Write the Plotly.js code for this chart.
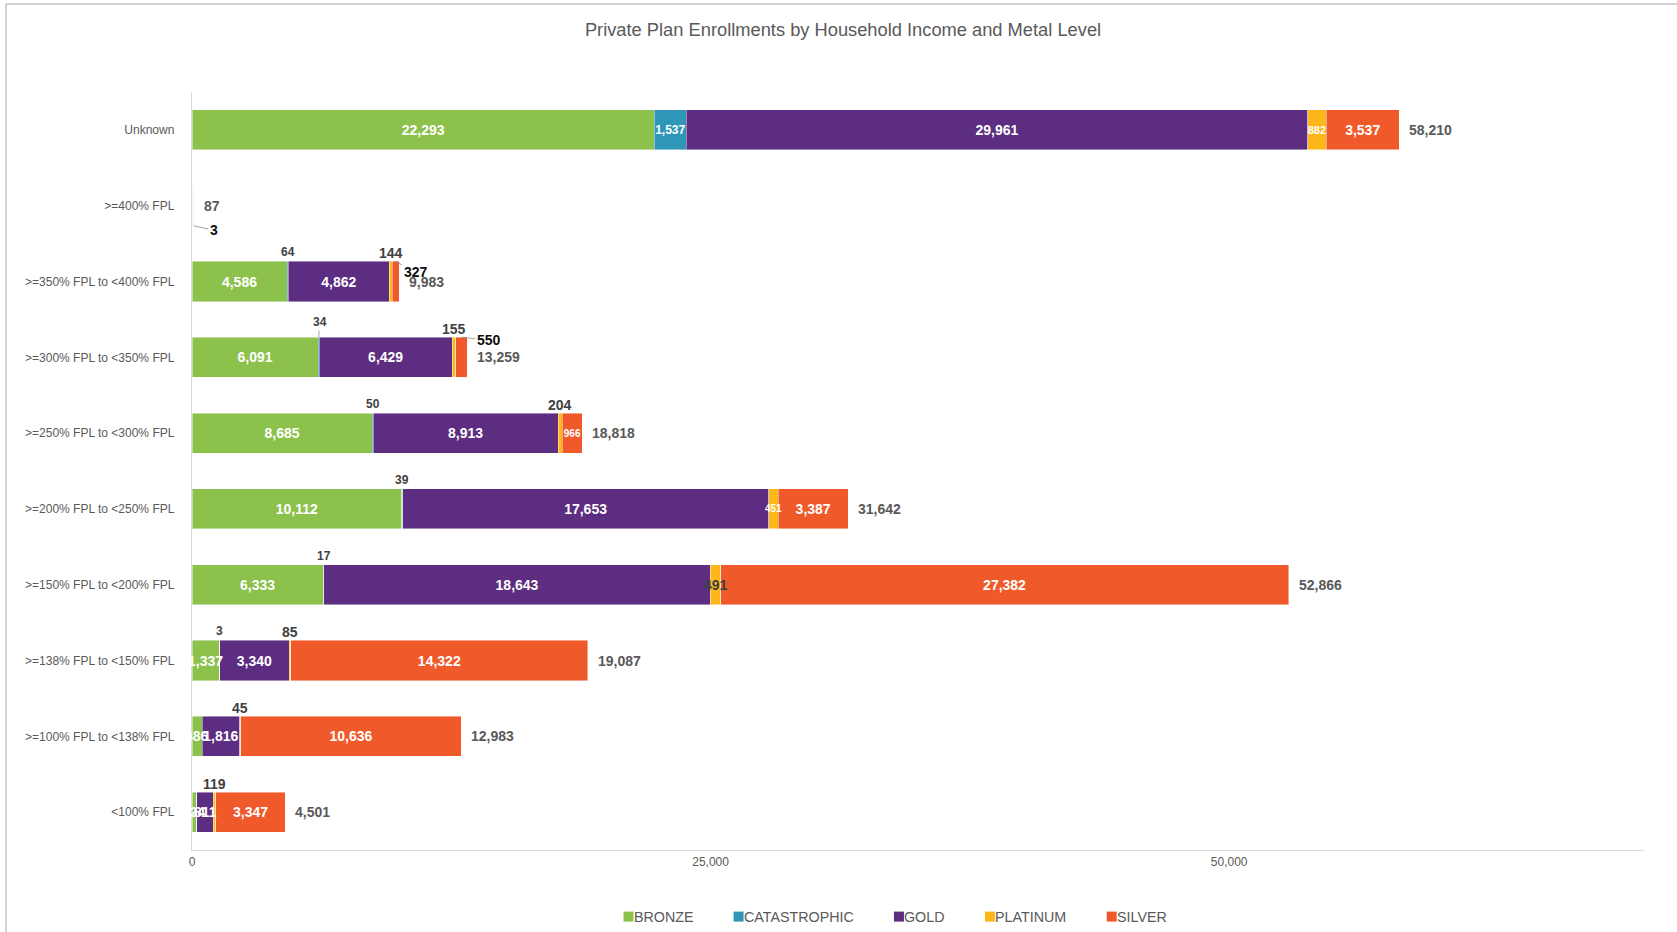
<!DOCTYPE html>
<html><head><meta charset="utf-8">
<script src="https://cdn.plot.ly/plotly-3.0.1.min.js"></script>
<style>html,body{margin:0;padding:0;background:#fff}#chart{width:1677px;height:932px}</style>
</head><body><div id="chart"></div>
<script>
// ---- data ----
const categories = ["Unknown", ">=400% FPL", ">=350% FPL to <400% FPL", ">=300% FPL to <350% FPL", ">=250% FPL to <300% FPL", ">=200% FPL to <250% FPL", ">=150% FPL to <200% FPL", ">=138% FPL to <150% FPL", ">=100% FPL to <138% FPL", "<100% FPL"];
const bronze       = [22293, 35, 4586, 6091, 8685, 10112, 6333, 1337, 486, 224];
const catastrophic = [1537,   0,   64,   34,   50,    39,   17,    3,   0,   0];
const gold         = [29961, 49, 4862, 6429, 8913, 17653, 18643, 3340, 1816, 811];
const platinum     = [882,    0,  144,  155,  204,   451,  491,   85,  45, 119];
const silver       = [3537,   3,  327,  550,  966,  3387, 27382, 14322, 10636, 3347];
const seriesNames  = ["BRONZE", "CATASTROPHIC", "GOLD", "PLATINUM", "SILVER"];
const xTickVals    = [0, 25000, 50000];
const xTickText    = ["0", "25,000", "50,000"];
const chartTitle   = "Private Plan Enrollments by Household Income and Metal Level";

// ---- styles ----
const colors = {BRONZE:"#8CC14C", CATASTROPHIC:"#2E97B8", GOLD:"#5C2D80", PLATINUM:"#FDB71A", SILVER:"#F05A2B"};
const FONT = '"Liberation Sans", Arial, Helvetica, sans-serif';
const W = 1677, H = 932, ML = 192, MR = 33, MT = 92, MB = 82;
const XMAX = 70000;
const plotW = W - ML - MR, plotH = H - MT - MB;
const seriesData = [bronze, catastrophic, gold, platinum, silver];
const placement = {
  BRONZE:       ['in','', 'in','in','in','in','in','in','in','in'],
  CATASTROPHIC: ['in','', 'above','lead','above','above','above','above','',''],
  GOLD:         ['in','', 'in','in','in','in','in','in','in','in'],
  PLATINUM:     ['in','', 'above','above','above','in','in','above','above','above'],
  SILVER:       ['in','lead','lead','lead','in','in','in','in','in','in']
};
const insideSize = {CATASTROPHIC:{0:12}, PLATINUM:{0:11,5:10}, SILVER:{4:10}};
const insideDark = {PLATINUM:{6:true}};
const leadOffsets = {SILVER:{1:[20,4.5,'bottom'],2:[20,11,'top'],3:[27.5,3,'top']}, CATASTROPHIC:{3:[1,-15,'top']}};

const fmt = v => v.toLocaleString('en-US');
const HALF = 0.265;

const canvas = document.createElement('canvas');
const ctx = canvas.getContext('2d');
function textW(str, size, bold) {
  ctx.font = (bold ? 'bold ' : '') + size + 'px "Liberation Sans", Arial, sans-serif';
  return ctx.measureText(str).width;
}
const pxPerUnit = plotW / XMAX;

const traces = [];
const annotations = [];
const shapes = [];
const cum = categories.map(() => 0);

seriesNames.forEach((name, s) => {
  const vals = seriesData[s];
  const text = [], sizes = [], tcolors = [];
  vals.forEach((v, i) => {
    const p = placement[name][i];
    const start = cum[i];
    const mid = start + v / 2;
    let bt = '', bs = 14, bc = '#ffffff';
    if (p === 'in') {
      const size = (insideSize[name] && insideSize[name][i]) || 14;
      const col = (insideDark[name] && insideDark[name][i]) ? '#404040' : '#ffffff';
      const fits = textW(fmt(v), size, true) <= v * pxPerUnit + 1;
      if (fits) { bt = fmt(v); bs = size; bc = col; }
      else {
        annotations.push({x: mid, y: i, xref:'x', yref:'y', text: fmt(v), showarrow:false,
          xanchor:'center', yanchor:'middle',
          font:{family:FONT, size:size, color:col, weight:'bold'}});
      }
    }
    text.push(bt); sizes.push(bs); tcolors.push(bc);
    if (p === 'above') {
      const isCat = name === 'CATASTROPHIC';
      annotations.push({x: mid, y: i - HALF, xref:'x', yref:'y', text: fmt(v), showarrow:false,
        yanchor:'bottom', xanchor:'center', yshift: isCat ? 0 : -2,
        font:{family:FONT, size: isCat ? 12 : 14, color:'#404040', weight:'bold'}});
    } else if (p === 'lead') {
      const o = leadOffsets[name][i];
      const yTip = o[2] === 'bottom' ? i + HALF : i - HALF;
      const isCat = name === 'CATASTROPHIC';
      annotations.push({x: mid, y: yTip, xref:'x', yref:'y', text: fmt(v), showarrow:true,
        ax:o[0], ay:o[1], arrowhead:0, arrowwidth:0.8, arrowcolor:'#8c8c8c', standoff:0,
        font:{family:FONT, size: isCat ? 12 : 14, color: isCat ? '#404040' : '#0d0d0d', weight:'bold'}});
    }
    cum[i] += v;
  });
  traces.push({
    type:'bar', orientation:'h', name: name, showlegend:false,
    y: categories, x: vals,
    marker:{color: colors[name], line:{color:'rgba(255,255,255,0.55)', width:0.8}},
    text: text, texttemplate:'%{text}', textposition:'inside', insidetextanchor:'middle',
    textangle:0, constraintext:'none', cliponaxis:false,
    insidetextfont:{family:FONT, size:sizes, color:tcolors, weight:'bold'},
    hoverinfo:'skip'
  });
});

// totals
cum.forEach((t, i) => {
  annotations.push({x: t, y: i, xref:'x', yref:'y', text: fmt(t), showarrow:false,
    xanchor:'left', yanchor:'middle', xshift:8,
    font:{family:FONT, size:14, color:'#595959', weight:'bold'}});
});

// legend (square + label), laid out from measured label widths
const px2x = px => (px - ML) / plotW;
const px2y = py => (H - MB - py) / plotH;
const legY = 916.6, sq = 10, legGap = 40.5, legFont = 14.3;
let lx = 623.5;
seriesNames.forEach(name => {
  shapes.push({type:'rect', xref:'paper', yref:'paper',
    x0:px2x(lx), x1:px2x(lx + sq), y0:px2y(legY + sq/2), y1:px2y(legY - sq/2),
    fillcolor:colors[name], line:{width:0}});
  annotations.push({xref:'paper', yref:'paper', x:px2x(lx + sq - 2), y:px2y(legY), text:name,
    showarrow:false, xanchor:'left', yanchor:'middle',
    font:{family:FONT, size:legFont, color:'#595959'}});
  lx += sq + textW(name, legFont, false) + legGap;
});

// outer frame
shapes.push({type:'rect', xref:'paper', yref:'paper', x0:px2x(6), x1:1.2, y0:-0.3, y1:px2y(4),
  line:{color:'#a6a6a6', width:1}, fillcolor:'rgba(0,0,0,0)', layer:'below'});

const layout = {
  width:W, height:H,
  margin:{l:ML, r:MR, t:MT, b:MB, pad:0, autoexpand:false},
  paper_bgcolor:'#ffffff', plot_bgcolor:'#ffffff',
  font:{family:FONT, color:'#595959'},
  title:{text:chartTitle, x:843/W, xanchor:'center', y:1-30/H, yanchor:'middle',
         font:{family:FONT, size:18.3, color:'#595959'}},
  barmode:'stack', bargap:0.47,
  xaxis:{range:[0,XMAX], tickmode:'array', tickvals:xTickVals, ticktext:xTickText,
         showgrid:false, zeroline:false, showline:true, linecolor:'#d9d9d9', linewidth:1.2,
         ticks:'', tickfont:{family:FONT, size:12, color:'#595959'}, fixedrange:true, automargin:false},
  yaxis:{type:'category', categoryorder:'array', categoryarray:categories, autorange:'reversed',
         showgrid:false, zeroline:false, showline:true, linecolor:'#d9d9d9', linewidth:1.2,
         ticks:'', ticklabelstandoff:14, tickfont:{family:FONT, size:12, color:'#595959'}, fixedrange:true, automargin:false},
  showlegend:false,
  annotations: annotations,
  shapes: shapes,
  hovermode:false
};

Plotly.newPlot('chart', traces, layout, {displayModeBar:false, staticPlot:true});
</script>
</body></html>
